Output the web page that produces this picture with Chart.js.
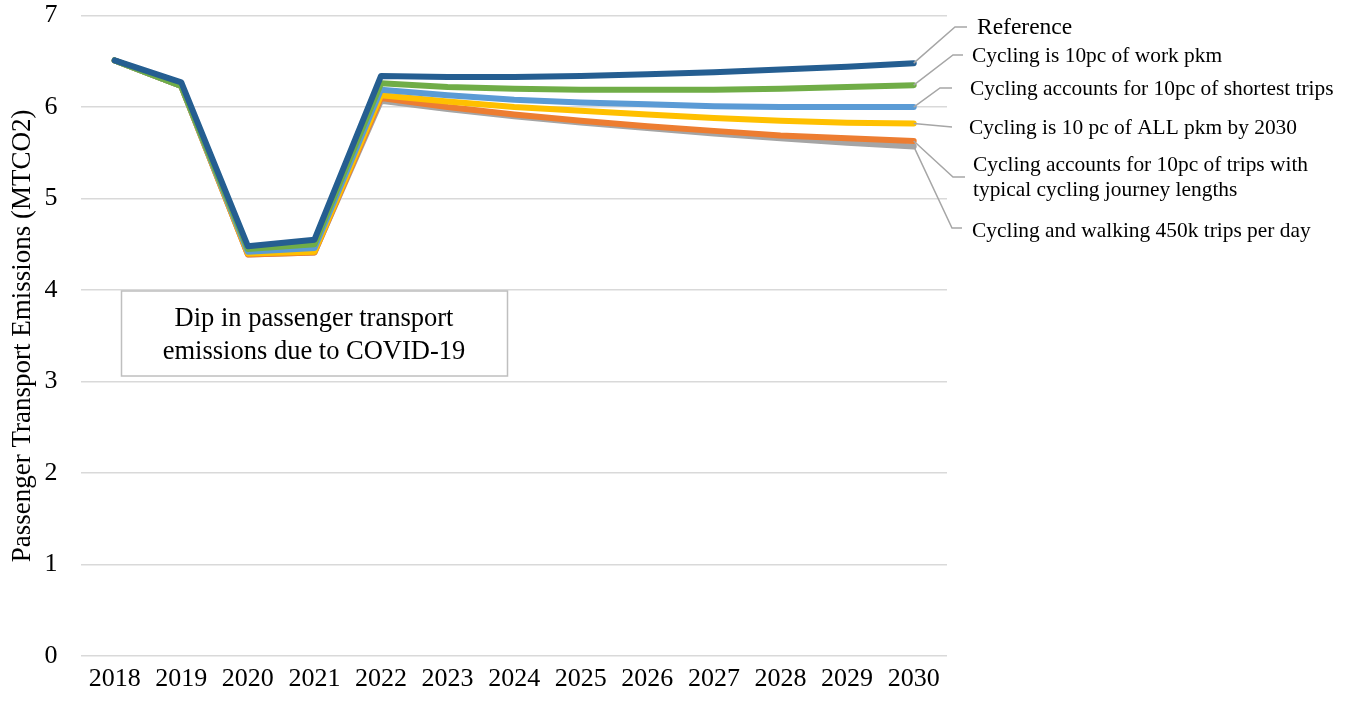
<!DOCTYPE html>
<html lang="en">
<head>
  <meta charset="UTF-8" />
  <title>Passenger Transport Emissions</title>
  <script src="https://cdn.jsdelivr.net/npm/chart.js"></script>
  <style>
    html, body { margin: 0; padding: 0; background: #fff; }
    #wrap { width: 1350px; height: 701px; position: relative; }
  </style>
</head>
<body>
  <div id="wrap"><canvas id="emissionsChart" width="1350" height="701"></canvas></div>

  <script>
    const years = ['2018', '2019', '2020', '2021', '2022', '2023', '2024', '2025', '2026', '2027', '2028', '2029', '2030'];

    const reference = [6.51, 6.27, 4.48, 4.55, 6.34, 6.33, 6.33, 6.34, 6.36, 6.38, 6.41, 6.44, 6.48];
    const workPkm   = [6.51, 6.23, 4.45, 4.50, 6.26, 6.22, 6.20, 6.19, 6.19, 6.19, 6.20, 6.22, 6.24];
    const shortest  = [6.51, 6.23, 4.42, 4.46, 6.19, 6.13, 6.08, 6.05, 6.03, 6.01, 6.00, 6.00, 6.00];
    const allPkm    = [6.51, 6.23, 4.40, 4.42, 6.13, 6.06, 6.00, 5.96, 5.92, 5.88, 5.85, 5.83, 5.82];
    const typical   = [6.51, 6.23, 4.39, 4.41, 6.10, 6.00, 5.92, 5.85, 5.79, 5.74, 5.69, 5.66, 5.63];
    const walking   = [6.51, 6.23, 4.39, 4.41, 6.07, 5.98, 5.90, 5.83, 5.77, 5.71, 5.66, 5.61, 5.57];

    const seriesNames = [
      'Reference',
      'Cycling is 10pc of work pkm',
      'Cycling accounts for 10pc of shortest trips',
      'Cycling is 10 pc of ALL pkm by 2030',
      ['Cycling accounts for 10pc of trips with', 'typical cycling journey lengths'],
      'Cycling and walking 450k trips per day'
    ];
    const seriesColors = ['#255E91', '#70AD47', '#5B9BD5', '#FFC000', '#ED7D31', '#A5A5A5'];
    const seriesData = [reference, workPkm, shortest, allPkm, typical, walking];

    const yTicks = [0, 1, 2, 3, 4, 5, 6, 7];
    const boxText = ['Dip in passenger transport', 'emissions due to COVID-19'];

    const serif = '"Liberation Serif", "Times New Roman", serif';

    // label placement: [text x, text y of first line, elbow x, elbow y, tail x, font size]
    const labelSpots = [
      [977, 28, 955, 27, 967, 23.5],
      [972, 56, 953, 55, 963, 21.4],
      [970, 89, 940, 88, 952, 21.4],
      [969, 128, 952, 127, 952, 21.4],
      [973, 165, 953, 177, 965, 21.4],
      [972, 231, 952, 228, 962, 21.4]
    ];

    const endLabels = {
      id: 'endLabels',
      afterDatasetsDraw(chart) {
        const ctx = chart.ctx;
        const x = chart.scales.x, y = chart.scales.y;
        const last = years.length - 1;
        ctx.save();
        ctx.strokeStyle = '#A6A6A6';
        ctx.lineWidth = 1.5;
        ctx.fillStyle = '#000';
        ctx.textBaseline = 'middle';
        ctx.textAlign = 'left';
        seriesData.forEach((d, i) => {
          const px = x.getPixelForValue(last);
          const py = y.getPixelForValue(d[last]);
          const s = labelSpots[i];
          ctx.beginPath();
          ctx.moveTo(px, py);
          ctx.lineTo(s[2], s[3]);
          ctx.lineTo(s[4], s[3]);
          ctx.stroke();
          ctx.font = s[5] + 'px ' + serif;
          const lines = Array.isArray(seriesNames[i]) ? seriesNames[i] : [seriesNames[i]];
          lines.forEach((t, k) => ctx.fillText(t, s[0], s[1] + k * 25));
        });

        // annotation box
        ctx.strokeStyle = '#BFBFBF';
        ctx.lineWidth = 1.5;
        ctx.strokeRect(121.5, 291, 386, 85);
        ctx.font = '26.5px ' + serif;
        ctx.textAlign = 'center';
        ctx.fillText(boxText[0], 314, 319);
        ctx.fillText(boxText[1], 314, 352);
        ctx.restore();
      }
    };

    new Chart(document.getElementById('emissionsChart'), {
      type: 'line',
      data: {
        labels: years,
        datasets: seriesData.map((d, i) => ({
          label: Array.isArray(seriesNames[i]) ? seriesNames[i].join(' ') : seriesNames[i],
          data: d,
          borderColor: seriesColors[i],
          backgroundColor: seriesColors[i],
          borderWidth: 6,
          pointRadius: 0,
          tension: 0,
          borderCapStyle: 'round',
          borderJoinStyle: 'round',
          order: i
        }))
      },
      options: {
        responsive: false,
        animation: false,
        layout: { padding: { left: 7, right: 403, top: 0, bottom: 0 } },
        plugins: {
          legend: { display: false },
          tooltip: { enabled: false }
        },
        scales: {
          x: {
            offset: true,
            grid: { display: false, drawTicks: false },
            border: { display: false },
            ticks: { color: '#000', font: { family: serif, size: 26 }, maxRotation: 0, autoSkip: false, padding: 8 },
            afterFit: axis => { axis.height = 45; }
          },
          y: {
            min: 0,
            max: 7,
            afterBuildTicks: axis => { axis.ticks = yTicks.map(v => ({ value: v })); },
            grid: { color: '#D9D9D9', lineWidth: 1.5, drawTicks: true, tickLength: 24, tickColor: 'rgba(0,0,0,0)' },
            border: { display: false },
            ticks: { color: '#000', font: { family: serif, size: 26 }, padding: 0 },
            title: {
              display: true,
              text: 'Passenger Transport Emissions (MTCO2)',
              color: '#000',
              font: { family: serif, size: 27 },
              padding: { top: 0, bottom: 5 }
            }
          }
        }
      },
      plugins: [endLabels]
    });
  </script>
</body>
</html>
